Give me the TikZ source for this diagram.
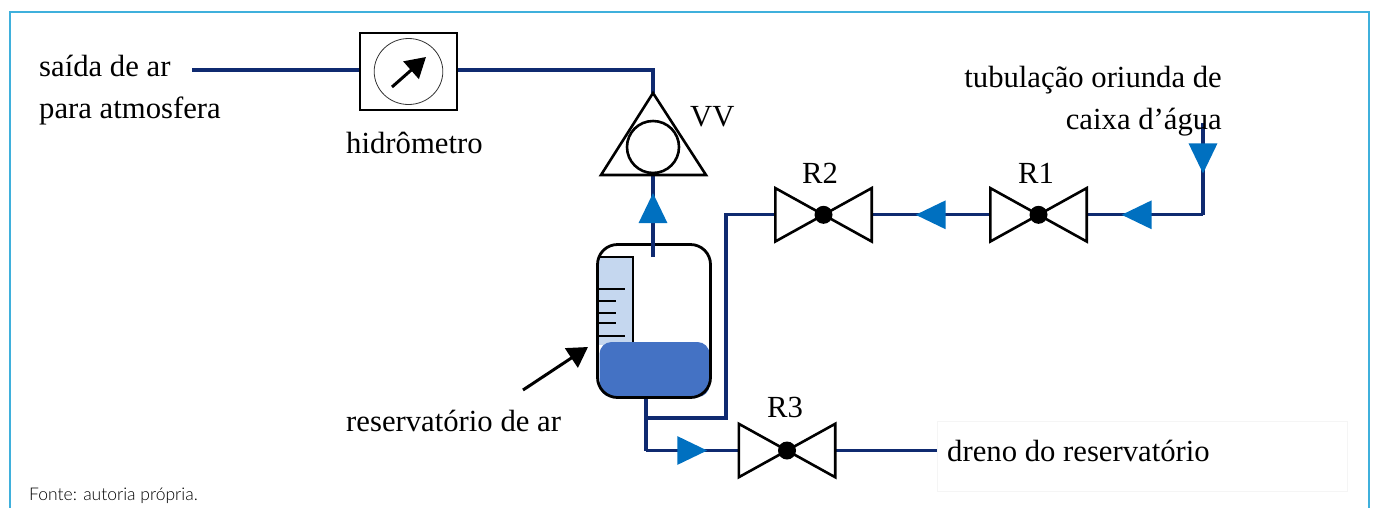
\documentclass[tikz,border=0pt]{standalone}
\usepackage{fontspec}
\setmainfont{Liberation Serif}
\setsansfont{Lato Light}
\usetikzlibrary{positioning}
\usetikzlibrary{arrows.meta}
\usetikzlibrary{decorations.markings}
\definecolor{pipeblue}{HTML}{0F2A70}
\definecolor{flowblue}{HTML}{0070C0}
\definecolor{framecyan}{HTML}{3FB0DC}
\definecolor{gaugeblue}{HTML}{C5D7EF}
\definecolor{waterblue}{HTML}{4472C4}

\begin{document}
\begin{tikzpicture}[
	x=1pt, y=-1pt,
	pipe/.style={draw=pipeblue, line width=3.2pt, line join=miter},
	flow/.style={decoration={markings, mark=at position #1 with {\arrow{Triangle[length=30pt, width=28pt, flowblue]}}}, postaction={decorate}},
	body/.style={draw=black, line width=2.6pt, line join=miter},
	valve/.style={minimum width=96pt, minimum height=53pt, inner sep=0pt},
	knob/.style={circle, fill=black, minimum size=18pt, inner sep=0pt},
	label/.style={font=\fontsize{30.7}{30.7}\selectfont, inner sep=0pt, anchor=base},
	pointer/.style={draw=black, line width=3pt, -{Triangle[length=20pt, width=23pt]}},
]
	\useasboundingbox (0,0) rectangle (1375,507);
	\draw[framecyan, line width=2pt] (9.5,515) |- (1368.5,11.5) -- (1368.5,515);
	\node[draw=black!4, line width=.8pt, minimum width=410pt, minimum height=70pt, inner sep=0pt] (drainbox) at (1142,456) {};

	% valves and meter
	\node[valve] (R1) at (1038.5,214.8) {};
	\node[valve] (R2) at (823.5,214.8) {};
	\node[valve] (R3) at (787,450.5) {};
	\node[draw=black, line width=2.6pt, minimum width=97pt, minimum height=77pt, inner sep=0pt] (meter) at (408.5,71.5) {};
	\node[circle, draw=black!80, line width=.8pt, minimum size=66pt, inner sep=0pt, xscale=1.04] (dial) at (meter) {};
	\node[draw=black, line width=2.6pt, circle, minimum size=52pt, inner sep=0pt] (vvball) at (653,147) {};
	\coordinate (vvtop) at (653,93);
	\coordinate (vvleft) at (601,175);
	\coordinate (vvright) at (706,175);
	\coordinate (vvbase) at (653,175);

	% reservoir
	\fill[gaugeblue] (599,257) rectangle (633,345);
	\draw[black, line width=2.2pt] (599,257) -| (633,345);
	\foreach \y/\x in {289/625, 301/616, 313/616, 323/616, 336/625}
		\draw[black, line width=2pt] (599,\y) -- (\x,\y);
	\node[fill=waterblue, rounded corners=12pt, minimum width=110pt, minimum height=55pt, inner sep=0pt] (water) at (654.5,369.5) {};
	\node[draw=black, line width=2.8pt, rounded corners=20pt, minimum width=113pt, minimum height=153pt, inner sep=0pt] (tank) at (654,321) {};

	% pipes
	\coordinate (airout) at (192,70);
	\coordinate (inlet) at (1203,123);
	\coordinate (inbend) at (1203,214.8);
	\coordinate (tankpipe) at (653,257);
	\coordinate (tee) at (646,418);
	\coordinate (drainend) at (937,450.5);
	\draw[pipe] (airout) -- (airout -| meter.west);
	\draw[pipe] (airout -| meter.east) -| (vvtop);
	\draw[pipe, flow=.78] (tankpipe) -- (vvbase);
	\draw[pipe, flow=.55] (inlet) -- (inbend);
	\draw[pipe, flow=.70] (inbend) -- (inbend -| R1.east);
	\draw[pipe, flow=.63] (R1.west) -- (R2.east);
	\draw[pipe] (tee) -- ++(80,0) |- (R2.west);
	\draw[pipe] (tank.south -| tee) -- (R3.west -| tee);
	\draw[pipe, flow=.66] (tee |- R3.west) -- (R3.west);
	\draw[pipe] (R3.east) -- (drainend);

	% symbols on top of the pipes
	\foreach \v in {R1, R2, R3} {
		\draw[body, fill=white] (\v.north west) -- (\v.south east) -- (\v.north east) -- (\v.south west) -- cycle;
		\node[knob] (\v knob) at (\v) {};
	}
	\draw[body] (vvtop) -- (vvleft) -- (vvright) -- cycle;
	\coordinate (needlefoot) at (392,87);
	\coordinate (needletip) at (426,57);
	\draw[pointer] (needlefoot) -- (needletip);
	\coordinate (tankfoot) at (523,390);
	\coordinate (tankhead) at (588,347);
	\draw[pointer] (tankfoot) -- (tankhead);

	% labels
	\node[label, anchor=base west] (airtop) at (39,76) {saída de ar};
	\node[label, anchor=base west] (airbot) at (39,118) {para atmosfera};
	\node[label, anchor=base west] (metertxt) at (346,153) {hidrômetro};
	\node[label, anchor=base west] (vvtxt) at (690,126) {VV};
	\node[label] (r1txt) at (1036,183) {R1};
	\node[label] (r2txt) at (820,183) {R2};
	\node[label] (r3txt) at (785,417) {R3};
	\node[label, anchor=base east] (pipetop) at (1222,87) {tubulação oriunda de};
	\node[label, anchor=base east] (pipebot) at (1222,129) {caixa d’água};
	\node[label, anchor=base west] (tanktxt) at (346,431) {reservatório de ar};
	\node[label, anchor=base west] (draintxt) at (947,461) {dreno do reservatório};
	\node[anchor=base west, inner sep=0pt, text=black, font=\sffamily\fontsize{17.5}{17.5}\selectfont] (source) at (29,500) {Fonte: autoria própria.};
\end{tikzpicture}
\end{document}
